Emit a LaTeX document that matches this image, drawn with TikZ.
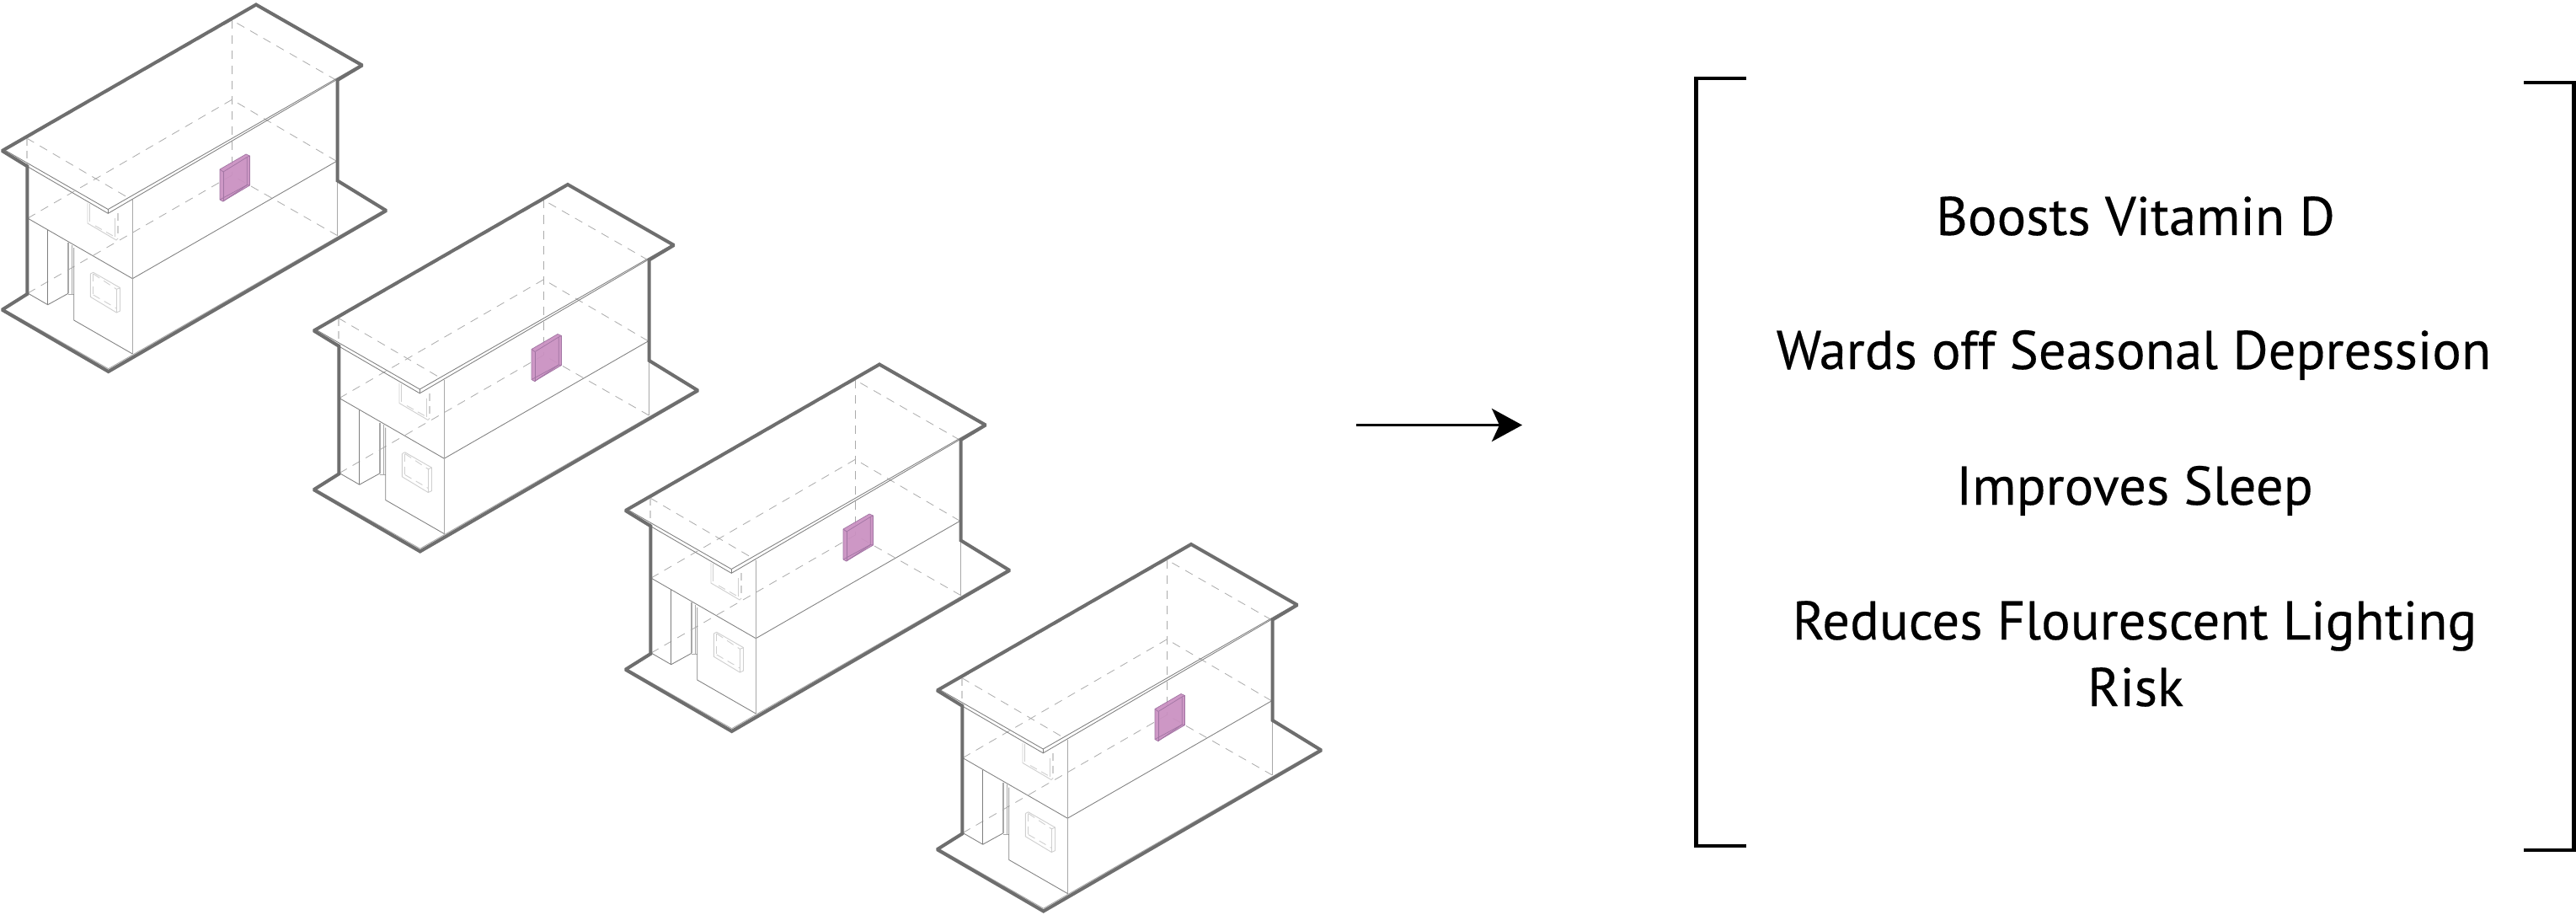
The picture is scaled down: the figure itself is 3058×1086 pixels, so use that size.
\documentclass[tikz,border=0pt]{standalone}
\usepackage{fontspec}
\setmainfont[FakeBold=0.25]{PT Sans}
\usetikzlibrary{arrows.meta}
\definecolor{wallgray}{HTML}{6E6E6E}
\definecolor{linegray}{HTML}{7F7F7F}
\definecolor{softgray}{HTML}{A8A8A8}
\definecolor{hidegray}{HTML}{ABABAB}
\definecolor{faintgray}{HTML}{CFCFCF}
\definecolor{panelfill}{HTML}{CA90C1}
\definecolor{paneledge}{HTML}{A175A3}
\tikzset{
  outline/.style={draw=wallgray,line width=4pt,line join=miter,miter limit=1.5},
  thin/.style={draw=linegray,line width=.85pt},
  soft/.style={draw=softgray,line width=.85pt},
  hidden/.style={draw=hidegray,line width=.8pt,dash pattern=on 10pt off 8pt},
  faint/.style={draw=faintgray,line width=.9pt},
  faintdash/.style={draw=faintgray,line width=.9pt,dash pattern=on 9pt off 6pt},
  panel/.style={fill=panelfill,draw=paneledge,line width=.7pt,line join=round},
  paneline/.style={draw=paneledge,line width=.7pt},
  bracket/.style={draw=black,line width=4.4pt,line join=miter},
  item/.style={anchor=base,inner sep=0pt,font=\fontsize{64.7}{79}\selectfont},
  flow/.style={draw=black,line width=3.8pt,-{Stealth[length=36pt,width=39pt,inset=9pt]}}
}
\begin{document}
\begin{tikzpicture}[x=1pt,y=-1pt]
\useasboundingbox (0,0) rectangle (3058,1086);
\fill[white] (0,0) rectangle (3058,1086);
\foreach \dx/\dy in {0/0,370/213.5,740/427,1110/640.5}{
\begin{scope}[shift={(\dx,\dy)}]
  % hidden structure
  \draw[hidden] (6.5,177) -- (304,6.5) -- (427.3,77.3);
  \draw[hidden] (31.7,164) -- (275.3,24) -- (399,95);
  \draw[hidden] (31.7,164) -- (156.7,237.3);
  \draw[hidden] (275.3,24) -- (275.3,208);
  \draw[hidden] (33,259) -- (275.3,118.3) -- (399,191);
  \draw[hidden] (33,348) -- (275.3,208) -- (400,279.3);
  \draw[faintdash,line width=1.4pt] (32,164) -- (32,197);
  % upper window
  \draw[faint] (104,241) -- (104,265) -- (138,285) -- (140,283);
  \draw[faint] (106.5,242) -- (106.5,263);
  \draw[faint] (136,259) -- (136,281);
  \draw[faintdash,line width=1.2pt] (140,253) -- (140,283);
  \draw[faintdash] (113,268) -- (136,281);
  % wall lines
  \draw[thin] (33.3,259.3) -- (157.3,330.7) -- (399,191.7);
  \draw[soft] (157.3,237.5) -- (157.3,420);
  \draw[soft] (400.5,214.5) -- (400.5,279.5);
  \draw[soft] (6,367.7) -- (128.7,437.7) -- (456,249.3);
  % recess on the ground floor
  \draw[thin] (33,348) -- (56.7,361.7) -- (81,348.3);
  \draw[thin] (56.7,273) -- (56.7,361.7);
  \draw[soft,line width=1.6pt] (81,288) -- (81,348.3);
  \draw[soft] (85,290.5) -- (85,349.7);
  \draw[soft] (81,349.7) -- (87.7,349.7);
  \draw[thin] (87.7,294) -- (87.7,380) -- (157.3,420);
  % ground window
  \draw[faint] (107.3,325) -- (107.3,352.3) -- (138.3,371) -- (142.7,369);
  \draw[faint] (142.7,341.7) -- (142.7,369);
  \draw[faint] (107.3,325) -- (110.7,323.3) -- (142.7,341.7);
  \draw[faintdash] (110.7,325) -- (110.7,350);
  \draw[faint] (138.3,343.3) -- (138.3,371);
  \draw[faintdash] (110.7,325) -- (138.3,343.3) -- (142.7,341.7);
  \draw[faintdash] (110.7,350) -- (138.3,366);
  % panel
  \draw[panel,fill opacity=.93] (261,201) -- (292,183) -- (296.5,185) -- (296.5,220) -- (264.5,239) -- (261,237) -- cycle;
  \draw[paneline] (261,201) -- (265,204) -- (293.3,186.5) -- (293.3,219.5) -- (265,239);
  \draw[paneline] (265,204) -- (265,239);
  \draw[paneline] (261,237) -- (293.3,219.5) -- (296.5,220);
  \draw[paneline] (293.3,186.5) -- (296.5,185);
  % roof edge
  \draw[thin] (6,178.3) -- (128.3,248.5) -- (427.3,77.3);
  \draw[thin] (32.3,197.5) -- (128.3,253.3) -- (399,95);
  \draw[thin] (128.3,248.5) -- (128.3,253.3);
  % thick outline
  \draw[outline] (32.3,197.3) -- (2.5,179) -- (304,5.5) -- (430,77.5) -- (400.7,95) -- (400.7,214.5) -- (458.5,250) -- (128.7,441) -- (2.5,367.7) -- (32.3,349) -- cycle;
\end{scope}}
% arrow
\coordinate (flowstart) at (1610,504.5);
\coordinate (flowend) at (1807,504.5);
\draw[flow] (flowstart) -- (flowend);
% brackets
\draw[bracket] (2073,93.3) -- (2013.5,93.3) -- (2013.5,1004) -- (2073,1004);
\draw[bracket] (2996,98) -- (3055.5,98) -- (3055.5,1009) -- (2996,1009);
% texts
\node[item] (vitamin) at (2535,279) {Boosts Vitamin D};
\node[item] (seasonal) at (2533,438) {Wards off Seasonal Depression};
\node[item] (sleep) at (2534,599) {Improves Sleep};
\node[item] (lighting) at (2534,759) {Reduces Flourescent Lighting};
\node[item] (risk) at (2535,838) {Risk};
\end{tikzpicture}
\end{document}
